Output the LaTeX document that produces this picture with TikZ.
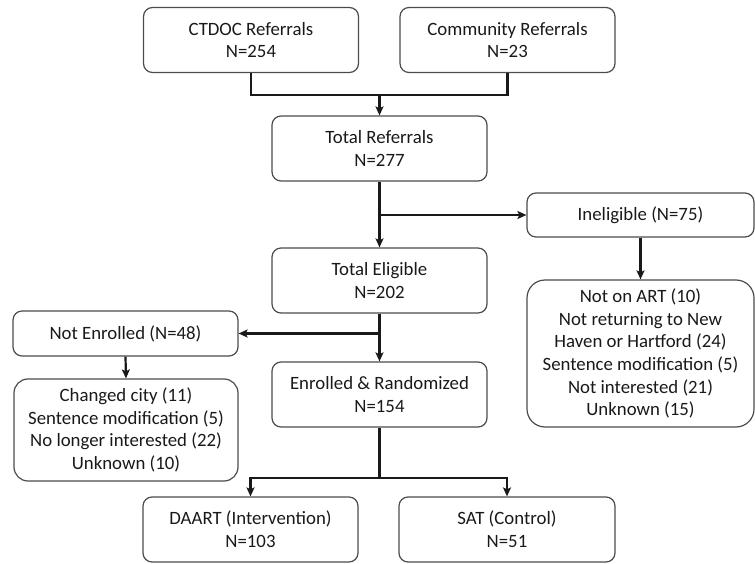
\documentclass[tikz,border=0pt]{standalone}
\usepackage{fontspec}
\setmainfont{Carlito}
\usetikzlibrary{arrows.meta}

\tikzset{
  box/.style={draw=black!70, line width=1.2pt, rounded corners=9pt, align=center,
    inner sep=0pt, minimum width=215pt, minimum height=65pt, text=black!90,
    font=\fontsize{18.8}{22.7}\selectfont},
  flow/.style={line width=2.2pt, black!90},
  arr/.style={flow, -{Stealth[length=9pt, width=8pt, inset=2pt]}}
}

\begin{document}
\begin{tikzpicture}[x=1pt, y=-1pt]
        \useasboundingbox (0,0) rectangle (755,564);

        % Sorgenti
        \node[box] (ctdoc) at (251, 40) {CTDOC Referrals\\N=254};
        \node[box] (comm) at (507.5, 40) {Community Referrals\\N=23};
        \node[box] (total) at (379.5, 148.5) {Total Referrals\\N=277};

        % Esclusi
        \node[box, minimum width=227pt, minimum height=44pt] (inel) at (640.5, 215) {Ineligible (N=75)};
        \node[box, minimum width=227pt, minimum height=147pt, rounded corners=18pt] (inelwhy) at (640.5, 353.5)
          {Not on ART (10)\\Not returning to New\\Haven or Hartford (24)\\Sentence modification (5)\\Not interested (21)\\Unknown (15)};

        % Idonei
        \node[box] (elig) at (379.5, 280.5) {Total Eligible\\N=202};
        \node[box, minimum width=225pt, minimum height=45pt] (notenr) at (125.5, 333.5) {Not Enrolled (N=48)};
        \node[box, minimum width=224pt, minimum height=102pt, rounded corners=14pt] (notwhy) at (126, 430)
          {Changed city (11)\\Sentence modification (5)\\No longer interested (22)\\Unknown (10)};
        \node[box] (enr) at (379.5, 394.5) {Enrolled \& Randomized\\N=154};

        % Bracci
        \node[box] (daart) at (250.5, 529.5) {DAART (Intervention)\\N=103};
        \node[box, minimum width=216pt] (sat) at (507, 529.5) {SAT (Control)\\N=51};

        % Punti di giunzione
        \coordinate (join1) at (379.5, 95);
        \coordinate (split1) at (379.5, 215);
        \coordinate (split2) at (379.5, 333.5);
        \coordinate (split3) at (379.5, 478);

        % Connettori
        \draw[flow] (ctdoc.south) |- (join1) -| (comm.south);
        \draw[arr] (join1) -- (total.north);
        \draw[arr] (total.south) -- (elig.north);
        \draw[arr] (split1) -- (inel.west);
        \draw[arr] (inel.south) -- (inelwhy.north);
        \draw[arr] (elig.south) -- (enr.north);
        \draw[arr] (split2) -- (notenr.east);
        \draw[arr] (notenr.south) -- (notwhy.north);
        \draw[flow] (enr.south) -- (split3);
        \draw[arr] (split3) -| (daart.north);
        \draw[arr] (split3) -| (sat.north);
\end{tikzpicture}
\end{document}
